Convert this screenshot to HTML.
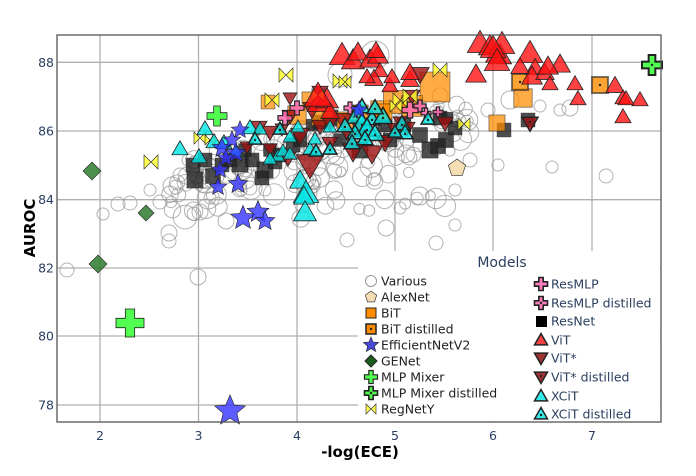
<!DOCTYPE html>
<html><head><meta charset="utf-8"><style>
body{margin:0;background:#fff;width:696px;height:471px;overflow:hidden}
svg text{font-family:"DejaVu Sans","Liberation Sans",sans-serif}
</style></head><body>
<svg id="s" width="696" height="471" xmlns="http://www.w3.org/2000/svg">
<rect x="57" y="35" width="604" height="387" fill="#fff"/>
<g stroke="#b0b0b0" stroke-width="1.3">
<line x1="100" y1="35" x2="100" y2="422"/><line x1="198.5" y1="35" x2="198.5" y2="422"/><line x1="297" y1="35" x2="297" y2="422"/><line x1="395" y1="35" x2="395" y2="422"/><line x1="493" y1="35" x2="493" y2="422"/><line x1="592" y1="35" x2="592" y2="422"/>
<line x1="57" y1="62.3" x2="661" y2="62.3"/><line x1="57" y1="131" x2="661" y2="131"/><line x1="57" y1="199.7" x2="661" y2="199.7"/><line x1="57" y1="268" x2="661" y2="268"/><line x1="57" y1="336" x2="661" y2="336"/><line x1="57" y1="405" x2="661" y2="405"/>
</g>
<g id="pts"></g>
<rect x="358" y="251" width="302" height="170" fill="#fff"/>
<rect x="57" y="35" width="604" height="387" fill="none" stroke="#555" stroke-width="1.3"/>
<g fill="#2a3f5f" font-size="12.5" text-anchor="middle">
<text x="100" y="440">2</text><text x="198.5" y="440">3</text><text x="297" y="440">4</text><text x="395" y="440">5</text><text x="493" y="440">6</text><text x="592" y="440">7</text>
</g>
<g fill="#2a3f5f" font-size="12.5" text-anchor="end">
<text x="54" y="67">88</text><text x="54" y="135.5">86</text><text x="54" y="204">84</text><text x="54" y="272.5">82</text><text x="54" y="340.5">80</text><text x="54" y="409.5">78</text>
</g>
<text x="360" y="457" font-size="15" font-weight="bold" text-anchor="middle">-log(ECE)</text>
<text transform="translate(35,228) rotate(-90)" font-size="15" font-weight="bold" text-anchor="middle">AUROC</text>
<text x="502" y="267" font-size="14" fill="#2a3f5f" text-anchor="middle">Models</text>
<g id="leg"></g>
</svg>
<script>
var out=[];var K=1.15;
function A(s){out.push(s);}
function circ(x,y,r){A(`<circle cx="${x}" cy="${y}" r="${r}" fill="none" stroke="#999" stroke-opacity="0.75" stroke-width="1"/>`);}
function tri(x,y,s,f,up,dot,sw){s*=K;var h=s*0.87;var p=up?`${x},${y-h*0.66} ${x-s/2},${y+h*0.34} ${x+s/2},${y+h*0.34}`:`${x},${y+h*0.66} ${x-s/2},${y-h*0.34} ${x+s/2},${y-h*0.34}`;A(`<polygon points="${p}" fill="${f}" fill-opacity="0.8" stroke="#222" stroke-width="${sw||0.8}"/>`);if(dot)A(`<circle cx="${x}" cy="${y}" r="1.2" fill="#222"/>`);}
function sq(x,y,s,f,op,dot){s*=K;A(`<rect x="${x-s/2}" y="${y-s/2}" width="${s}" height="${s}" fill="${f}" fill-opacity="${op||0.75}" stroke="#222" stroke-opacity="0.6" stroke-width="${dot?2:0.8}"/>`);if(dot)A(`<circle cx="${x}" cy="${y}" r="1.2" fill="#222"/>`);}
function star(x,y,r,f){r*=K;var p=[];for(var i=0;i<10;i++){var a=-Math.PI/2+i*Math.PI/5,rr=i%2?r*0.45:r;p.push((x+rr*Math.cos(a)).toFixed(1)+","+(y+rr*Math.sin(a)).toFixed(1));}A(`<polygon points="${p.join(" ")}" fill="${f}" fill-opacity="0.8" stroke="#222" stroke-width="0.6"/>`);}
function dia(x,y,r){A(`<polygon points="${x},${y-r} ${x+r},${y} ${x},${y+r} ${x-r},${y}" fill="#2e7d2e" fill-opacity="0.85" stroke="#222" stroke-width="0.6"/>`);}
function plus(x,y,s,f,sw,dot){var a=s/2,b=s/6;A(`<polygon points="${x-b},${y-a} ${x+b},${y-a} ${x+b},${y-b} ${x+a},${y-b} ${x+a},${y+b} ${x+b},${y+b} ${x+b},${y+a} ${x-b},${y+a} ${x-b},${y+b} ${x-a},${y+b} ${x-a},${y-b} ${x-b},${y-b}" fill="${f}" fill-opacity="0.85" stroke="#222" stroke-width="${sw||0.7}"/>`);if(dot)A(`<circle cx="${x}" cy="${y}" r="1.2" fill="#222"/>`);}
function bow(x,y,s){var a=s/2;A(`<polygon points="${x-a},${y-a} ${x},${y} ${x-a},${y+a}" fill="#ffff33" fill-opacity="0.85" stroke="#222" stroke-width="0.6"/><polygon points="${x+a},${y-a} ${x},${y} ${x+a},${y+a}" fill="#ffff33" fill-opacity="0.85" stroke="#222" stroke-width="0.6"/>`);}
function pent(x,y,r){var p=[];for(var i=0;i<5;i++){var a=-Math.PI/2+i*2*Math.PI/5;p.push((x+r*Math.cos(a)).toFixed(1)+","+(y+r*Math.sin(a)).toFixed(1));}A(`<polygon points="${p.join(" ")}" fill="#f5deb3" stroke="#222" stroke-width="0.6"/>`);}
var seed=7;function rnd(){seed=(seed*9301+49297)%233280;return seed/233280;}
[[67,270,7],[103,214,6],[118,204,7],[130,203,7],[160,202,7],[150,190,6],[169,233,8],[169,241,7],[198,277,8],[200,212,8],[226,221,8],[310,193,7],[347,240,7],[400,208,6],[386,228,8],[455,225,6],[436,243,7],[420,196,9],[470,160,7],[498,165,6],[552,167,6],[606,176,7],[560,110,6],[570,108,8],[488,110,7],[510,100,9],[540,106,6],[375,55,14],[340,75,12],[180,175,7],[176,187,7],[188,160,6],[210,198,6],[250,188,7],[265,190,6],[455,190,6]].forEach(c=>circ(c[0],c[1],c[2]));
for(var i=0;i<130;i++){var x=170+rnd()*300;var base=185-(x-170)*0.28;var y=base-20+rnd()*60;circ(x.toFixed(1),y.toFixed(1),(5+rnd()*7).toFixed(1));}
for(var i=0;i<30;i++){var x=300+rnd()*150;var y=150+rnd()*70;circ(x.toFixed(1),y.toFixed(1),(5+rnd()*6).toFixed(1));}
[[195,180,14],[193,165,12],[205,160,12],[213,176,13],[222,165,12],[230,160,12],[240,164,14],[252,160,12],[265,170,14],[275,162,12],[262,178,12],[280,155,12],[245,150,11],[270,150,11],[300,140,12],[320,122,12],[330,118,14],[312,125,10],[360,150,14],[340,140,11],[420,135,13],[430,150,14],[438,146,13],[446,140,13],[455,128,12],[404,125,12],[440,118,12],[447,118,10],[528,120,12],[504,130,12],[385,125,12],[390,140,12],[293,145,12]].forEach(c=>sq(c[0],c[1],c[2],"#222",0.8));
[[297,115,16],[322,115,18],[268,102,12],[380,110,16],[395,102,20],[384,112,14],[435,87,26],[497,123,14],[523,98,16],[412,106,18],[345,120,14],[360,113,14],[310,100,14]].forEach(c=>sq(c[0],c[1],c[2],"#ff8c00",0.72));
sq(520,82,14,"#ff8c00",0.8,true);sq(600,85,14,"#ff8c00",0.8,true);
[[310,163,24],[259,126,14],[270,131,14],[282,128,12],[290,115,14],[320,125,14],[330,122,14],[343,119,16],[350,135,16],[360,126,16],[372,152,18],[385,141,16],[395,128,14],[400,121,12],[407,127,14],[353,150,18],[420,73,16],[412,95,14],[445,122,14],[300,134,16],[312,108,16],[247,146,12],[270,148,12],[288,157,14],[330,142,14],[320,91,14],[290,97,12]].forEach(c=>tri(c[0],c[1],c[2],"#a01010",false));
tri(530,122,14,"#a01010",false,true,1.4);
[[342,57,22],[353,62,20],[358,54,18],[370,61,18],[378,57,18],[376,52,16],[380,72,14],[374,80,16],[367,78,14],[390,87,14],[392,78,14],[410,81,16],[410,74,16],[480,45,22],[490,48,20],[496,56,18],[500,57,20],[502,46,22],[493,50,22],[530,55,22],[535,69,16],[532,78,18],[545,74,16],[560,66,18],[550,85,14],[476,76,18],[497,63,22],[520,68,16],[575,85,14],[578,100,14],[615,87,16],[623,99,14],[626,100,14],[623,118,14],[640,101,14],[320,104,22],[327,101,20],[330,113,16],[548,68,18]].forEach(c=>tri(c[0],c[1],c[2],"#ff1111",true));
[[151,162,14],[200,138,12],[210,140,10],[272,100,14],[286,75,14],[340,81,14],[345,82,12],[400,100,14],[410,96,14],[396,106,12],[464,124,12],[440,70,14],[318,95,12]].forEach(c=>bow(c[0],c[1],c[2]));
[[297,108,14],[285,118,14],[410,110,16],[420,106,12],[426,113,10],[438,112,10],[350,108,12]].forEach(c=>plus(c[0],c[1],c[2],"#ff69b4",1.2));
[[180,150,14],[199,158,14],[214,143,14],[205,130,14],[224,144,14],[236,152,12],[250,129,14],[260,130,12],[278,157,12],[283,152,12],[290,155,12],[300,182,18],[306,195,22],[304,198,18],[305,214,20],[270,160,12],[310,150,12],[315,140,12],[330,128,12],[290,138,12],[298,128,12]].forEach(c=>tri(c[0],c[1],c[2],"#00e5e5",true));
[[362,108,14],[357,117,18],[362,125,18],[372,120,14],[367,130,18],[375,135,16],[355,134,14],[345,127,14],[383,118,16],[375,109,14],[402,125,14],[405,134,14],[352,144,14],[255,140,12],[280,130,12],[316,152,12],[330,150,12],[365,140,14],[395,133,12],[428,120,12]].forEach(c=>tri(c[0],c[1],c[2],"#00e5e5",true,true,1.5));
tri(318,98,24,"#ff1111",true);
[[222,148,9],[236,153,9],[220,170,8],[218,187,8],[238,184,9],[240,130,8],[232,140,8],[243,218,11],[258,212,10],[265,221,9],[226,158,8],[359,110,8]].forEach(c=>star(c[0],c[1],c[2],"#3333ff"));
star(230,411,14,"#3333ff");
dia(92,171,9);dia(98,264,9);dia(146,213,8);
plus(130,323,28,"#33ff33",0.8);plus(217,116,20,"#33ff33",0.8);
plus(652,65,20,"#33ff33",2,true);
pent(457,168,9);
document.getElementById("pts").innerHTML=out.join("");
out=[];K=1;
var L=[["Various",281],["AlexNet",297],["BiT",313],["BiT distilled",329],["EfficientNetV2",345],["GENet",361],["MLP Mixer",377],["MLP Mixer distilled",393],["RegNetY",409]];
var R=[["ResMLP",284],["ResMLP distilled",303],["ResNet",321],["ViT",340],["ViT*",358],["ViT* distilled",377],["XCiT",396],["XCiT distilled",414]];
A(`<circle cx="371" cy="281" r="5.5" fill="#fff" stroke="#999"/>`);pent(371,297,6);
A(`<rect x="366" y="308" width="10" height="10" fill="#ff8c00" stroke="#222"/><rect x="366" y="324" width="10" height="10" fill="#ff8c00" stroke="#222" stroke-width="1.5"/><circle cx="371" cy="329" r="1.2" fill="#222"/>`);
star(371,345,8,"#1a1acc");A(`<polygon points="371,355 377,361 371,367 365,361" fill="#1b5e1b" stroke="#222"/>`);
plus(371,377,13,"#33ff33",1.2);plus(371,393,13,"#33ff33",1.6,true);bow(371,409,10);
plus(541,284,13,"#ff69b4",1.6);plus(541,303,13,"#ff69b4",1.6,true);A(`<rect x="536" y="316" width="11" height="11" fill="#000"/>`);
tri(541,341,13,"#ee1111",true,false,1.5);tri(541,357,13,"#8b0000",false,false,1.5);tri(541,376,13,"#8b0000",false,true,1.5);tri(541,397,13,"#00e5e5",true,false,1.5);tri(541,415,13,"#00e5e5",true,true,1.5);
L.forEach(l=>A(`<text x="381" y="${l[1]+4.5}" font-size="12.5" fill="#222">${l[0]}</text>`));
R.forEach(l=>A(`<text x="551" y="${l[1]+4.5}" font-size="12.5" fill="#2a3f5f">${l[0]}</text>`));
document.getElementById("leg").innerHTML=out.join("");
</script>
</body></html>
